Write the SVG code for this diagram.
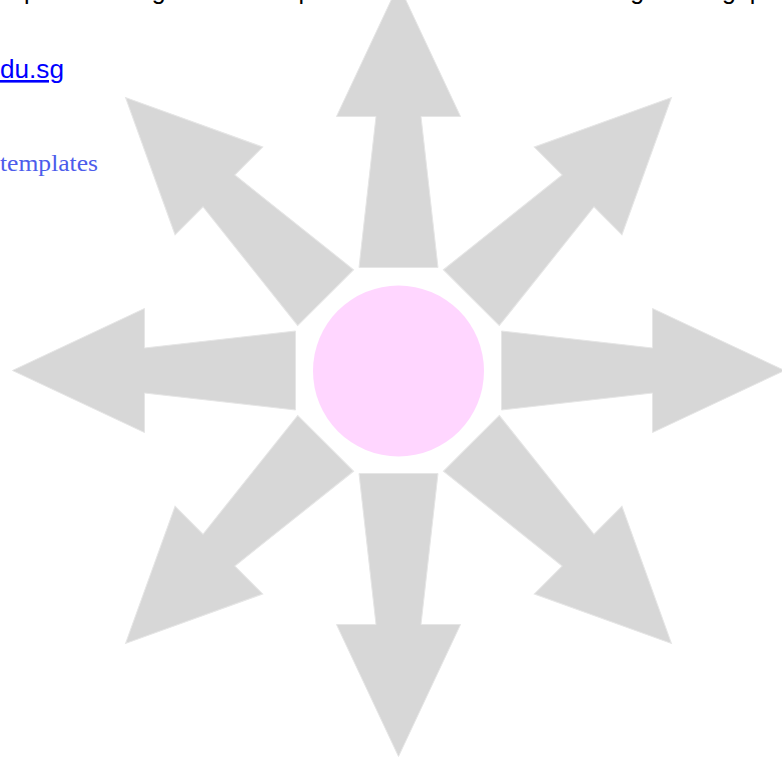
<svg xmlns="http://www.w3.org/2000/svg" width="782" height="757" viewBox="0 0 782 757">
<style>
.arrow{fill:#d7d7d7;stroke:#e6e6e6;stroke-width:1}
.top{font-family:"Liberation Sans","Open Sans",sans-serif;font-size:25px;fill:#000}
.link{font-family:"Liberation Sans","Open Sans",sans-serif;font-size:26px;fill:#0000ff;text-decoration:underline}
.tpl{font-family:"Liberation Serif","DejaVu Serif",serif;font-size:24px;fill:#4c5ceb}
</style>
<defs>
<path id="arr" d="M -39.5,-103 L -22.5,-254 L -62,-254 L 0,-386 L 62,-254 L 22.5,-254 L 39.5,-103 Z"/>
</defs>
<rect width="782" height="757" fill="#ffffff"/>
<g id="text">
<text class="top" y="-1"><tspan x="24">paces</tspan><tspan x="106">using</tspan><tspan x="286">spaces</tspan><tspan x="569">adding</tspan><tspan x="722">gap</tspan></text>
<text class="link" x="0" y="78" textLength="64" lengthAdjust="spacingAndGlyphs">du.sg</text>
<text class="tpl" x="0" y="171" textLength="98" lengthAdjust="spacingAndGlyphs">templates</text>
</g>
<g id="connectors">
<use href="#arr" class="arrow" transform="translate(398.5,370.5) rotate(0)"/>
<use href="#arr" class="arrow" transform="translate(398.5,370.5) rotate(45)"/>
<use href="#arr" class="arrow" transform="translate(398.5,370.5) rotate(90)"/>
<use href="#arr" class="arrow" transform="translate(398.5,370.5) rotate(135)"/>
<use href="#arr" class="arrow" transform="translate(398.5,370.5) rotate(180)"/>
<use href="#arr" class="arrow" transform="translate(398.5,370.5) rotate(225)"/>
<use href="#arr" class="arrow" transform="translate(398.5,370.5) rotate(270)"/>
<use href="#arr" class="arrow" transform="translate(398.5,370.5) rotate(315)"/>
</g>
<g id="center">
<circle cx="398.5" cy="371" r="85.5" fill="#ffd6ff"/>
</g>
</svg>
